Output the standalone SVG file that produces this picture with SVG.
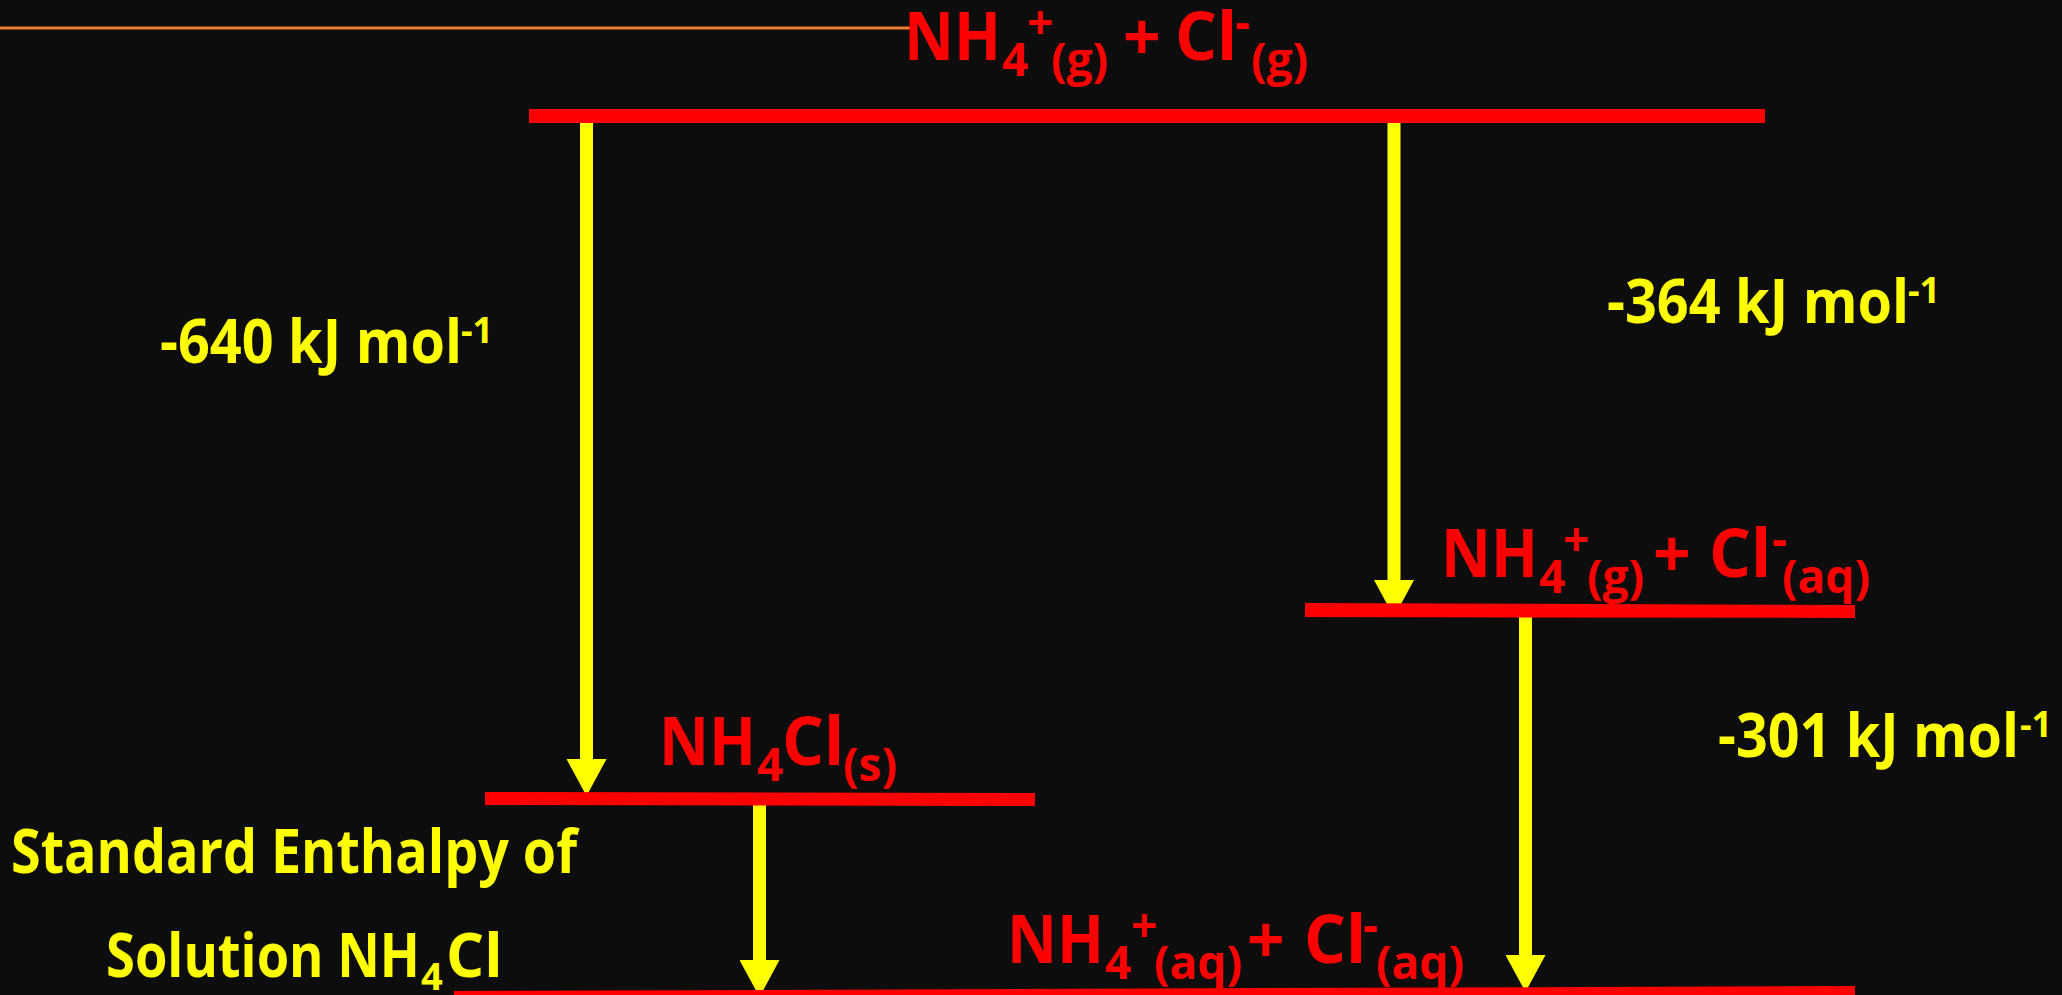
<svg xmlns="http://www.w3.org/2000/svg" width="2062" height="995" viewBox="0 0 2062 995">
<defs>
<style>
.t{font-family:"Open Sans","Noto Sans","DejaVu Sans",sans-serif;font-weight:700}
.red{fill:#FF0000;font-size:66px}
.yel{fill:#FFFF00;font-size:60px}
.rs{font-size:46px}
.ys{font-size:36px}
.ysub{font-size:38px}
.bar{fill:#FF0000}
.arr{stroke:#FFFF00;stroke-width:13;fill:none}
</style>
<marker id="ah" markerUnits="userSpaceOnUse" markerWidth="37" markerHeight="40" viewBox="0 0 37 40" refX="0" refY="20" orient="auto">
<path d="M0,0 L37,20 L0,40 Z" fill="#FFFF00"/>
</marker>
</defs>
<rect x="0" y="0" width="2062" height="995" fill="#0D0D0D"/>
<g id="decor">
<line x1="0" y1="28" x2="917" y2="28" stroke="#ED7D31" stroke-width="3"/>
</g>
<g id="connectors">
<line class="arr" x1="586.5" y1="123" x2="586.5" y2="759" marker-end="url(#ah)"/>
<line class="arr" x1="1394" y1="123" x2="1394" y2="580" marker-end="url(#ah)"/>
<line class="arr" x1="759.5" y1="805" x2="759.5" y2="960" marker-end="url(#ah)"/>
<line class="arr" x1="1525.5" y1="617" x2="1525.5" y2="955" marker-end="url(#ah)"/>
</g>
<g id="node-gas">
<rect class="bar" x="529" y="109" width="1236" height="14"/>
<text class="t red"><tspan x="904" y="60" textLength="97" lengthAdjust="spacingAndGlyphs">NH</tspan><tspan class="rs" x="1002" y="76">4</tspan><tspan class="rs" x="1027" y="39">+</tspan><tspan class="rs" x="1051" y="76">(g) </tspan><tspan x="1123" y="60">+ </tspan><tspan x="1175" y="60">Cl</tspan><tspan class="rs" x="1235" y="39">-</tspan><tspan class="rs" x="1251" y="76">(g)</tspan></text>
</g>
<g id="node-mixed">
<polygon class="bar" points="1305,603 1855,605 1855,618 1305,617"/>
<text class="t red"><tspan x="1441" y="577" textLength="97" lengthAdjust="spacingAndGlyphs">NH</tspan><tspan class="rs" x="1539" y="593">4</tspan><tspan class="rs" x="1563" y="556">+</tspan><tspan class="rs" x="1587" y="593">(g) </tspan><tspan x="1653" y="577">+ </tspan><tspan x="1709" y="577">Cl</tspan><tspan class="rs" x="1772" y="556">-</tspan><tspan class="rs" x="1782" y="593">(aq)</tspan></text>
</g>
<g id="node-solid">
<polygon class="bar" points="485,792 1035,793 1035,806 485,805"/>
<text class="t red"><tspan x="659" y="765" textLength="97" lengthAdjust="spacingAndGlyphs">NH</tspan><tspan class="rs" x="757" y="781">4</tspan><tspan x="782" y="765">Cl</tspan><tspan class="rs" x="843" y="781">(s)</tspan></text>
</g>
<g id="node-aqueous">
<polygon class="bar" points="454,991 1855,986 1855,1000 454,1000"/>
<text class="t red"><tspan x="1007" y="963" textLength="97" lengthAdjust="spacingAndGlyphs">NH</tspan><tspan class="rs" x="1105" y="979">4</tspan><tspan class="rs" x="1131" y="942">+</tspan><tspan class="rs" x="1154" y="979">(aq) </tspan><tspan x="1247" y="963">+ </tspan><tspan x="1304" y="963">Cl</tspan><tspan class="rs" x="1363" y="942">-</tspan><tspan class="rs" x="1376" y="979">(aq)</tspan></text>
</g>
<g id="label-640">
<text class="t yel"><tspan x="160" y="363" textLength="302" lengthAdjust="spacingAndGlyphs">-640 kJ mol</tspan><tspan class="ys" x="461" y="343">-1</tspan></text>
</g>
<g id="label-364">
<text class="t yel"><tspan x="1607" y="323" textLength="302" lengthAdjust="spacingAndGlyphs">-364 kJ mol</tspan><tspan class="ys" x="1908" y="303">-1</tspan></text>
</g>
<g id="label-301">
<text class="t yel"><tspan x="1718" y="757" textLength="301" lengthAdjust="spacingAndGlyphs">-301 kJ mol</tspan><tspan class="ys" x="2020" y="737">-1</tspan></text>
</g>
<g id="label-solution">
<text class="t yel" x="11" y="873" textLength="566" lengthAdjust="spacingAndGlyphs">Standard Enthalpy of</text>
<text class="t yel"><tspan x="106" y="977" textLength="314" lengthAdjust="spacingAndGlyphs">Solution NH</tspan><tspan class="ysub" x="421" y="990">4</tspan><tspan x="446" y="977">Cl</tspan></text>
</g>
</svg>
